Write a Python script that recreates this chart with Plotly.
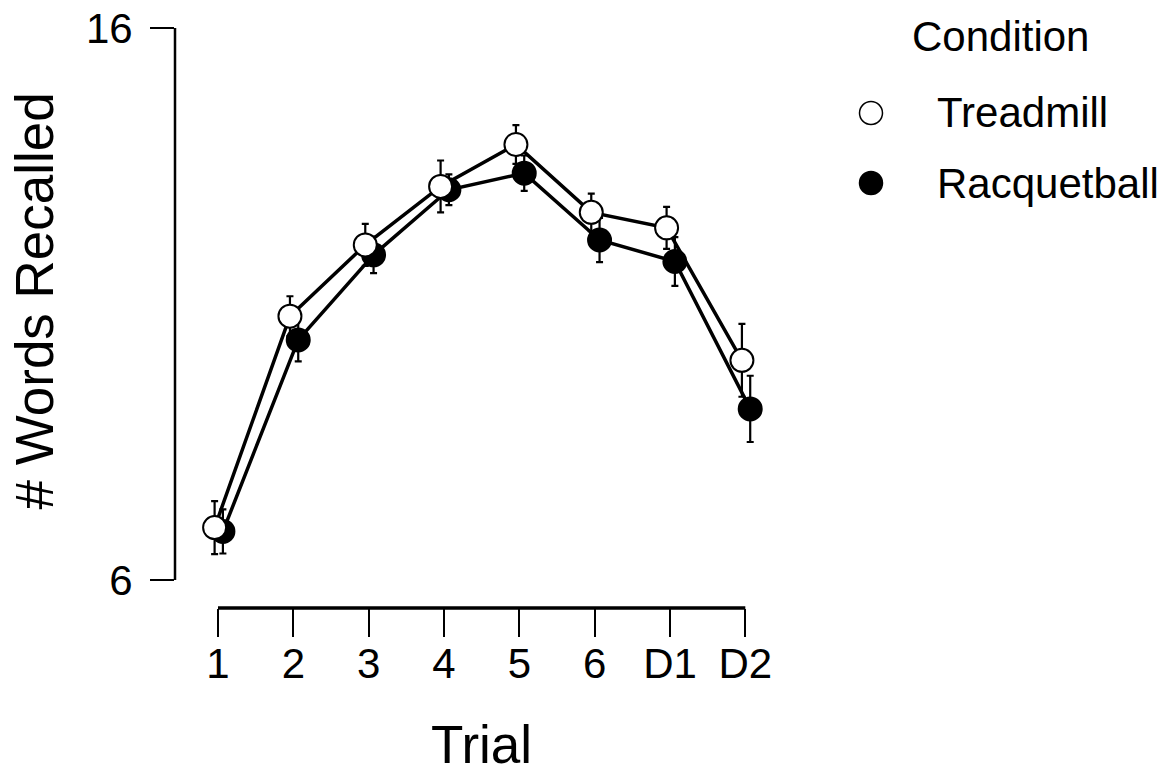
import plotly.graph_objects as go

# ---- data ----
trials = ["1", "2", "3", "4", "5", "6", "D1", "D2"]
treadmill = [6.95, 10.78, 12.07, 13.13, 13.89, 12.66, 12.38, 9.98]
treadmill_se = [0.48, 0.36, 0.38, 0.47, 0.35, 0.34, 0.38, 0.66]
racquetball = [6.88, 10.35, 11.89, 13.07, 13.37, 12.16, 11.77, 9.10]
racquetball_se = [0.40, 0.39, 0.33, 0.28, 0.32, 0.40, 0.44, 0.60]
y_ticks = [6, 16]

# ---- style / layout constants ----
W, H = 1175, 770
OFF = 8              # page body margin offset in the browser
FONT = "Liberation Sans, Arial, sans-serif"
px_per_x = 75.33
px_per_y = 55.2
x1_px = 218          # screen pixel of trial 1
plot_left, plot_right = 175, 800
plot_top, plot_bottom = 28, 608
dodge = {"Treadmill": -0.045, "Racquetball": 0.065}


def pxx(p):
    return (p - OFF) / W


def pxy(p):
    return 1 - (p - OFF) / H


pos = list(range(1, len(trials) + 1))
x_range = [1 - (x1_px - plot_left) / px_per_x, 1 + (plot_right - x1_px) / px_per_x]
y_range = [y_ticks[0] - (plot_bottom - (plot_top + (y_ticks[1] - y_ticks[0]) * px_per_y)) / px_per_y, y_ticks[1]]

fig = go.Figure()


def add_series(name, vals, se, fill):
    fig.add_trace(go.Scatter(
        x=[p + dodge[name] for p in pos], y=vals, name=name, mode="lines+markers",
        line=dict(color="black", width=3.5),
        marker=dict(size=23, color=fill, line=dict(color="black", width=2)),
        error_y=dict(type="data", array=se, visible=True, color="black", thickness=2.2, width=3.5),
        showlegend=False, cliponaxis=False,
    ))


add_series("Racquetball", racquetball, racquetball_se, "black")
add_series("Treadmill", treadmill, treadmill_se, "white")

# manual legend (layout positions in screen pixels)
legend_items = [("Treadmill", "white", 113), ("Racquetball", "black", 183)]
legend_marker_x = 871
legend_r = 11.5

shapes = [
    dict(type="line", xref="x domain", yref="y", x0=0, x1=0, y0=y_ticks[0], y1=y_ticks[1],
         line=dict(color="black", width=2.5)),
    dict(type="line", xref="x", yref="y domain", x0=pos[0], x1=pos[-1], y0=0, y1=0,
         line=dict(color="black", width=3.5)),
]
annotations = [
    dict(text="Condition", x=pxx(910), y=pxy(36), xref="paper", yref="paper",
         xanchor="left", yanchor="middle", showarrow=False, font=dict(family=FONT, size=42, color="black")),
]
for name, fill, ypx in legend_items:
    shapes.append(dict(type="circle", xref="paper", yref="paper",
                       xsizemode="pixel", ysizemode="pixel",
                       xanchor=pxx(legend_marker_x), yanchor=pxy(ypx),
                       x0=-legend_r, x1=legend_r, y0=-legend_r, y1=legend_r,
                       fillcolor=fill, line=dict(color="black", width=1.5)))
    annotations.append(dict(text=name, x=pxx(935), y=pxy(ypx), xref="paper", yref="paper",
                            xanchor="left", yanchor="middle", showarrow=False,
                            font=dict(family=FONT, size=42, color="black")))
annotations.append(dict(text="Trial", x=(1 + len(trials)) / 2, y=pxy(744), xref="x", yref="paper",
                        xanchor="center", yanchor="middle", showarrow=False,
                        font=dict(family=FONT, size=53, color="black")))
annotations.append(dict(text="# Words Recalled", x=pxx(34), y=pxy(301.5), xref="paper", yref="paper",
                        xanchor="center", yanchor="middle", textangle=-90, showarrow=False,
                        font=dict(family=FONT, size=53, color="black")))

fig.update_layout(
    template="none",
    width=W, height=H,
    margin=dict(l=0, r=0, t=0, b=0, autoexpand=False),
    paper_bgcolor="white", plot_bgcolor="rgba(0,0,0,0)",
    font=dict(family=FONT, size=42, color="black"),
    xaxis=dict(domain=[pxx(plot_left), pxx(plot_right)], range=x_range,
               tickmode="array", tickvals=pos, ticktext=trials,
               ticks="outside", ticklen=28, tickwidth=2, tickcolor="black",
               ticklabelstandoff=-9, ticklabeloverflow="allow",
               showline=False, showgrid=False, zeroline=False, automargin=False,
               tickfont=dict(family=FONT, size=42, color="black")),
    yaxis=dict(domain=[pxy(plot_bottom), pxy(plot_top)], range=y_range,
               tickmode="array", tickvals=y_ticks,
               ticks="outside", ticklen=24, tickwidth=2, tickcolor="black",
               ticklabelstandoff=9, ticklabeloverflow="allow",
               showline=False, showgrid=False, zeroline=False, automargin=False,
               tickfont=dict(family=FONT, size=42, color="black")),
    annotations=annotations,
    shapes=shapes,
    showlegend=False,
)

fig.write_html("out.html")
